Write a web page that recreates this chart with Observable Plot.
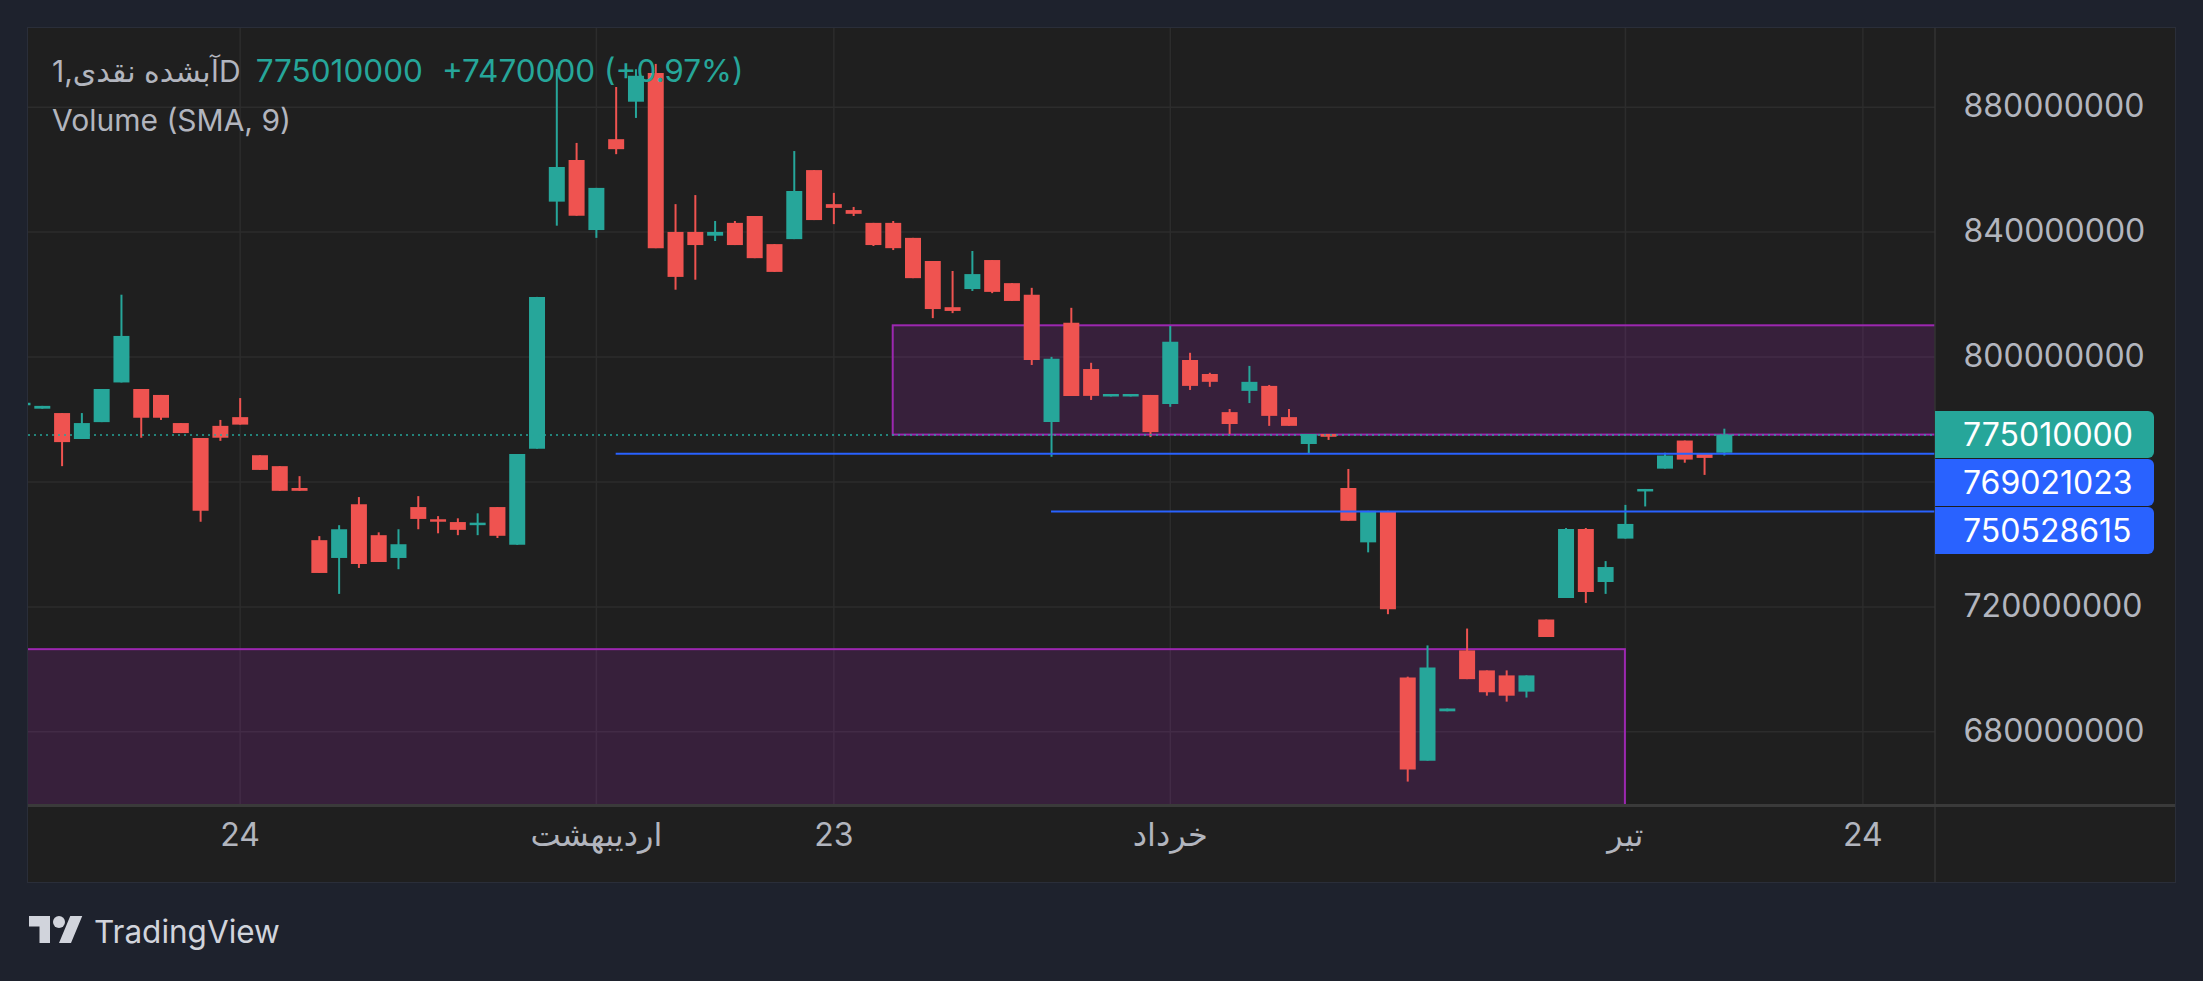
<!DOCTYPE html>
<html>
<head>
<meta charset="utf-8">
<script src="https://cdn.jsdelivr.net/npm/d3@7"></script>
<script src="https://cdn.jsdelivr.net/npm/@observablehq/plot@0.6"></script>
<style>
  html, body { margin: 0; padding: 0; background: #1e222d; width: 2203px; height: 981px; overflow: hidden; }
  body { position: relative; font-family: Inter, "DejaVu Sans", sans-serif; }
  #panel { position: absolute; left: 27px; top: 27px; width: 2147px; height: 854px; border: 1px solid #2a2e39; background: #1f1f1f; }
  #chart { position: absolute; left: 0; top: 0; }
  #header { position: absolute; left: 24px; top: 18px; font-size: 30px; line-height: 49px; color: #b2b5be; white-space: nowrap; pointer-events: none; }
  #header .teal { color: #26a69a; font-size: 31.5px; }
  .tag { position: absolute; left: 1907px; width: 219px; height: 47px; border-radius: 0 6px 6px 0; color: #ffffff; font-size: 32px; line-height: 47px; box-sizing: border-box; padding-left: 28px; }
  #footer { position: absolute; left: 28px; top: 908px; height: 46px; display: flex; align-items: center; color: #d1d4dc; font-size: 31.5px; }
</style>
</head>
<body>
<div id="panel">
  <div id="chart"></div>
  <div id="header">
    <div><span dir="ltr">1,آبشده نقدیD</span><span class="teal" style="margin-left:15px">775010000</span><span class="teal" style="margin-left:19px">+7470000 (+0.97%)</span></div>
    <div>Volume (SMA, 9)</div>
  </div>
</div>
<div id="footer">
  <svg width="56" height="42" viewBox="0 0 36 28" style="margin-right:10px"><path fill="#d1d4dc" d="M14 22H7V11H0V4h14v18zM28 22h-8l7.5-18h8L28 22z"/><circle fill="#d1d4dc" cx="20" cy="8" r="4"/></svg>
  <span>TradingView</span>
</div>
<script>
// OHLC values in millions (candle index 0 is partially visible at the left edge)
const open  = [784.4,783.3,781.9,773.6,779.0,791.7,789.6,787.7,778.7,773.9,777.8,780.6,768.4,764.9,757.9,741.2,735.5,752.7,742.8,735.5,751.8,747.9,747.0,746.0,751.8,739.7,770.5,849.6,862.9,840.5,869.6,881.6,890.8,839.9,839.9,838.7,842.8,845.0,836.0,837.6,859.7,848.8,846.9,842.8,842.8,838.0,830.6,815.8,821.6,830.9,823.5,819.8,779.0,810.8,796.0,787.2,787.2,787.7,784.8,798.9,794.4,782.2,789.0,790.6,780.6,772.0,775.2,757.9,740.5,750.3,697.2,670.6,686.4,705.9,699.5,697.9,692.7,715.8,722.7,744.8,727.8,741.7,756.8,764.1,773.1,769.0,769.2];
const high  = [785.0,784.2,781.9,781.9,789.6,819.8,789.6,787.7,778.7,773.9,779.7,786.7,768.4,764.9,761.7,742.5,746.0,755.0,743.7,744.7,755.3,748.9,748.2,749.8,751.8,768.8,819.1,892.1,868.4,854.0,886.3,892.0,893.7,848.8,851.7,843.4,843.4,845.0,836.0,865.8,859.7,852.4,847.9,842.8,843.4,838.0,830.6,827.4,833.8,830.9,823.5,822.0,799.9,815.6,798.0,788.0,788.0,787.7,809.8,801.2,794.8,783.2,797.0,790.9,783.2,775.2,775.2,764.0,750.6,750.6,697.5,707.5,687.3,712.9,699.5,699.5,697.9,715.8,745.1,745.1,734.5,752.5,757.6,769.2,773.1,769.0,776.9];
const low   = [784.4,783.3,764.9,773.6,779.0,791.7,774.0,779.7,775.5,747.1,773.0,778.2,763.7,757.0,757.0,730.7,724.0,732.3,734.2,731.9,744.7,743.4,742.8,742.8,741.9,739.7,770.5,841.9,845.1,838.0,864.8,876.4,834.7,821.4,824.6,837.0,835.7,831.5,827.1,837.6,843.7,842.4,845.0,835.4,834.1,825.1,812.3,813.9,821.0,820.3,817.8,797.3,767.9,787.4,786.1,787.2,787.2,774.2,783.9,789.3,790.3,775.2,785.1,777.8,777.8,768.8,773.3,747.4,737.3,717.5,663.9,670.6,686.4,696.7,691.4,689.5,690.8,710.2,722.7,721.1,724.0,741.7,752.0,764.1,766.0,762.1,768.3];
const close = [785.0,784.2,772.6,778.7,789.6,806.6,780.4,780.4,775.5,750.6,774.0,778.2,763.7,757.0,757.0,730.7,744.7,733.6,734.2,739.9,748.0,747.1,744.5,746.4,742.6,768.8,819.1,860.7,845.1,854.0,866.4,889.9,834.7,825.5,835.7,839.9,835.7,831.5,827.1,853.0,843.7,847.6,845.7,835.7,834.7,825.1,815.2,814.6,826.4,820.7,817.8,798.9,799.3,787.4,787.4,788.0,788.0,775.8,804.7,790.6,791.9,778.4,791.9,781.0,777.8,775.2,774.3,747.4,750.6,719.1,667.8,700.4,687.3,696.7,692.5,691.4,697.9,710.2,744.8,724.6,732.6,746.4,757.6,768.3,767.0,767.54,775.01];

// Time axis
const xTickIdx = [11, 29, 41, 58, 81, 93];
const xLabels  = ["24", "اردیبهشت", "23", "خرداد", "تیر", "24"];

// Price axis
const yGrid   = [680, 720, 760, 800, 840, 880];
const yLabels = [680, 720, 800, 840, 880];

// Last price and horizontal levels
const lastPrice = 775.01;
const levels     = [769.021023, 750.528615];
const levelStart = [30, 52];

// Zones (rectangles)
const zoneX1 = [44, -5];
const zoneX2 = [110, 81];
const zoneLo = [775.01, 640];
const zoneHi = [810.0, 706.3];

const TEAL = "#26a69a", RED = "#ef5350", BLUE = "#2962ff", PURPLE = "#9c27b0", GRID = "#2c2c2c";

const candles = open.map((o, i) => ({i, o, h: high[i], l: low[i], c: close[i], up: close[i] >= o}));
const zones = zoneX1.map((x1, i) => ({x1, x2: zoneX2[i], y1: zoneLo[i], y2: zoneHi[i]}));
const lines = levels.map((v, i) => ({v, x1: levelStart[i], x2: 110}));
const fmt = v => d3.format("d")(Math.round(v * 1e6));

const chart = Plot.plot({
  width: 2147, height: 854,
  marginLeft: 0, marginRight: 240, marginTop: 0, marginBottom: 77,
  x: {domain: [0.303, 96.67], axis: null},
  y: {domain: [656.4, 905.2], axis: null},
  style: {background: "#1f1f1f", color: "#b2b5be", fontFamily: "Inter, 'DejaVu Sans', sans-serif", fontSize: "32px", overflow: "visible"},
  marks: [
    Plot.ruleX(xTickIdx, {x: d => d, stroke: GRID, strokeWidth: 1.5}),
    Plot.ruleY(yGrid, {y: d => d, stroke: GRID, strokeWidth: 1.5}),
    Plot.rect(zones, {x1: "x1", x2: "x2", y1: "y1", y2: "y2", fill: PURPLE, fillOpacity: 0.2, stroke: PURPLE, strokeWidth: 2, clip: true}),
    Plot.ruleX(candles, {x: "i", y1: "l", y2: "h", stroke: d => d.up ? TEAL : RED, strokeWidth: 2, clip: true}),
    Plot.ruleX(candles, {x: "i", y1: "o", y2: d => Math.abs(d.c - d.o) < 0.8 ? d.o + (d.up ? 0.8 : -0.8) : d.c, stroke: d => d.up ? TEAL : RED, strokeWidth: 16, clip: true}),
    Plot.ruleY(lines, {y: "v", x1: "x1", x2: "x2", stroke: BLUE, strokeWidth: 2, clip: true}),
    Plot.ruleY([lastPrice], {y: d => d, stroke: TEAL, strokeWidth: 1.5, strokeDasharray: "2,4"}),
    Plot.text(yLabels, {y: d => d, text: fmt, frameAnchor: "right", textAnchor: "start", dx: 28, fill: "#b2b5be"}),
    Plot.text(xTickIdx, {x: d => d, text: (d, i) => xLabels[i], frameAnchor: "bottom", dy: 40, fill: "#b2b5be"})
  ]
});
document.getElementById("chart").appendChild(chart);

// separators of price axis and time axis
const svg = d3.select(chart);
svg.append("line").attr("x1", 1907).attr("x2", 1907).attr("y1", 0).attr("y2", 854).attr("stroke", "#333333").attr("stroke-width", 1.5);
svg.append("line").attr("x1", 0).attr("x2", 2147).attr("y1", 777.5).attr("y2", 777.5).attr("stroke", "#3a3a3a").attr("stroke-width", 3);

// price tags, positioned by the plot's y scale and stacked to avoid overlap
const ys = chart.scale("y");
const panel = document.getElementById("panel");
const tags = [{v: lastPrice, bg: TEAL}, {v: levels[0], bg: BLUE}, {v: levels[1], bg: BLUE}];
let prevBottom = -Infinity;
for (const t of tags) {
  let top = ys.apply(t.v) - 23.5;
  if (top < prevBottom + 1) top = prevBottom + 1;
  const div = document.createElement("div");
  div.className = "tag";
  div.style.top = top + "px";
  div.style.background = t.bg;
  div.textContent = fmt(t.v);
  panel.appendChild(div);
  prevBottom = top + 47;
}
</script>
</body>
</html>
